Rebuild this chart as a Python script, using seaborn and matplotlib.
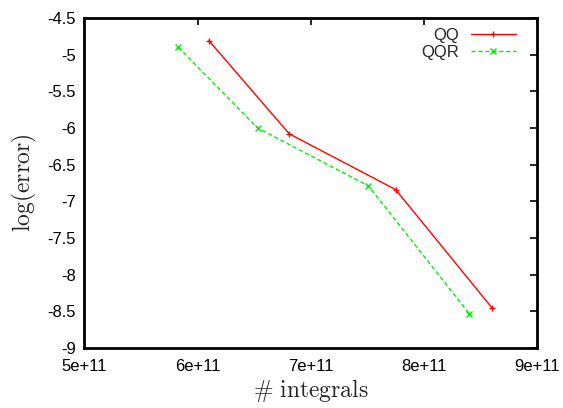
import matplotlib
matplotlib.use("Agg")
import matplotlib.pyplot as plt
import seaborn as sns
import pandas as pd

# Number of integrals evaluated and the resulting log error per method
qq_integrals = [6.10e11, 6.81e11, 7.75e11, 8.60e11]
qq_log_error = [-4.81, -6.08, -6.84, -8.45]
qqr_integrals = [5.83e11, 6.53e11, 7.51e11, 8.40e11]
qqr_log_error = [-4.90, -6.00, -6.79, -8.53]

x_ticks = [5e11, 6e11, 7e11, 8e11, 9e11]
x_tick_labels = ["5e+11", "6e+11", "7e+11", "8e+11", "9e+11"]
y_ticks = [-9, -8.5, -8, -7.5, -7, -6.5, -6, -5.5, -5, -4.5]
y_tick_labels = ["-9", "-8.5", "-8", "-7.5", "-7", "-6.5", "-6", "-5.5", "-5", "-4.5"]

df = pd.concat([
    pd.DataFrame({"integrals": qq_integrals, "log_error": qq_log_error, "method": "QQ"}),
    pd.DataFrame({"integrals": qqr_integrals, "log_error": qqr_log_error, "method": "QQR"}),
], ignore_index=True)

sns.set_style("white")
plt.rcParams["font.family"] = ["Liberation Sans", "DejaVu Sans"]
plt.rcParams["mathtext.fontset"] = "cm"
plt.rcParams["axes.unicode_minus"] = False

fig = plt.figure(figsize=(5.63, 4.08), dpi=100)
ax = fig.add_axes([0.150, 0.147, 0.804, 0.809])

sns.lineplot(
    data=df, x="integrals", y="log_error", hue="method", style="method",
    palette={"QQ": "#ff0000", "QQR": "#00ee00"},
    dashes={"QQ": "", "QQR": (3, 2)},
    markers={"QQ": "+", "QQR": "x"},
    markersize=5, markeredgewidth=1.0, linewidth=1.0,
    ax=ax, legend=True,
)

# Point markers take the colour of their own line
for line in ax.get_lines():
    line.set_markeredgecolor(line.get_color())

ax.set_xlim(5e11, 9e11)
ax.set_ylim(-9, -4.5)
ax.set_xticks(x_ticks)
ax.set_xticklabels(x_tick_labels, fontsize=12)
ax.set_yticks(y_ticks)
ax.set_yticklabels(y_tick_labels, fontsize=12)
ax.tick_params(direction="in", length=5, width=1.2, top=True, right=True,
               colors="black")
ax.tick_params(axis="x", pad=8)
ax.tick_params(axis="y", pad=6)
for side in ["top", "bottom", "left", "right"]:
    ax.spines[side].set_visible(True)
    ax.spines[side].set_color("black")
    ax.spines[side].set_linewidth(2.0)

ax.set_xlabel(r"$\#\ \mathrm{integrals}$", fontsize=17, labelpad=2)
ax.set_ylabel(r"$\mathrm{log(error)}$", fontsize=17, labelpad=6)

handles, labels = ax.get_legend_handles_labels()
for h in handles:
    h.set_markeredgecolor(h.get_color())
leg = ax.legend(handles, labels, loc="upper right", frameon=False, markerfirst=False,
                fontsize=12, handlelength=2.7, handletextpad=0.7, labelspacing=0.1,
                borderaxespad=0.2, bbox_to_anchor=(0.975, 1.0))

fig.savefig("out.png", dpi=100)
